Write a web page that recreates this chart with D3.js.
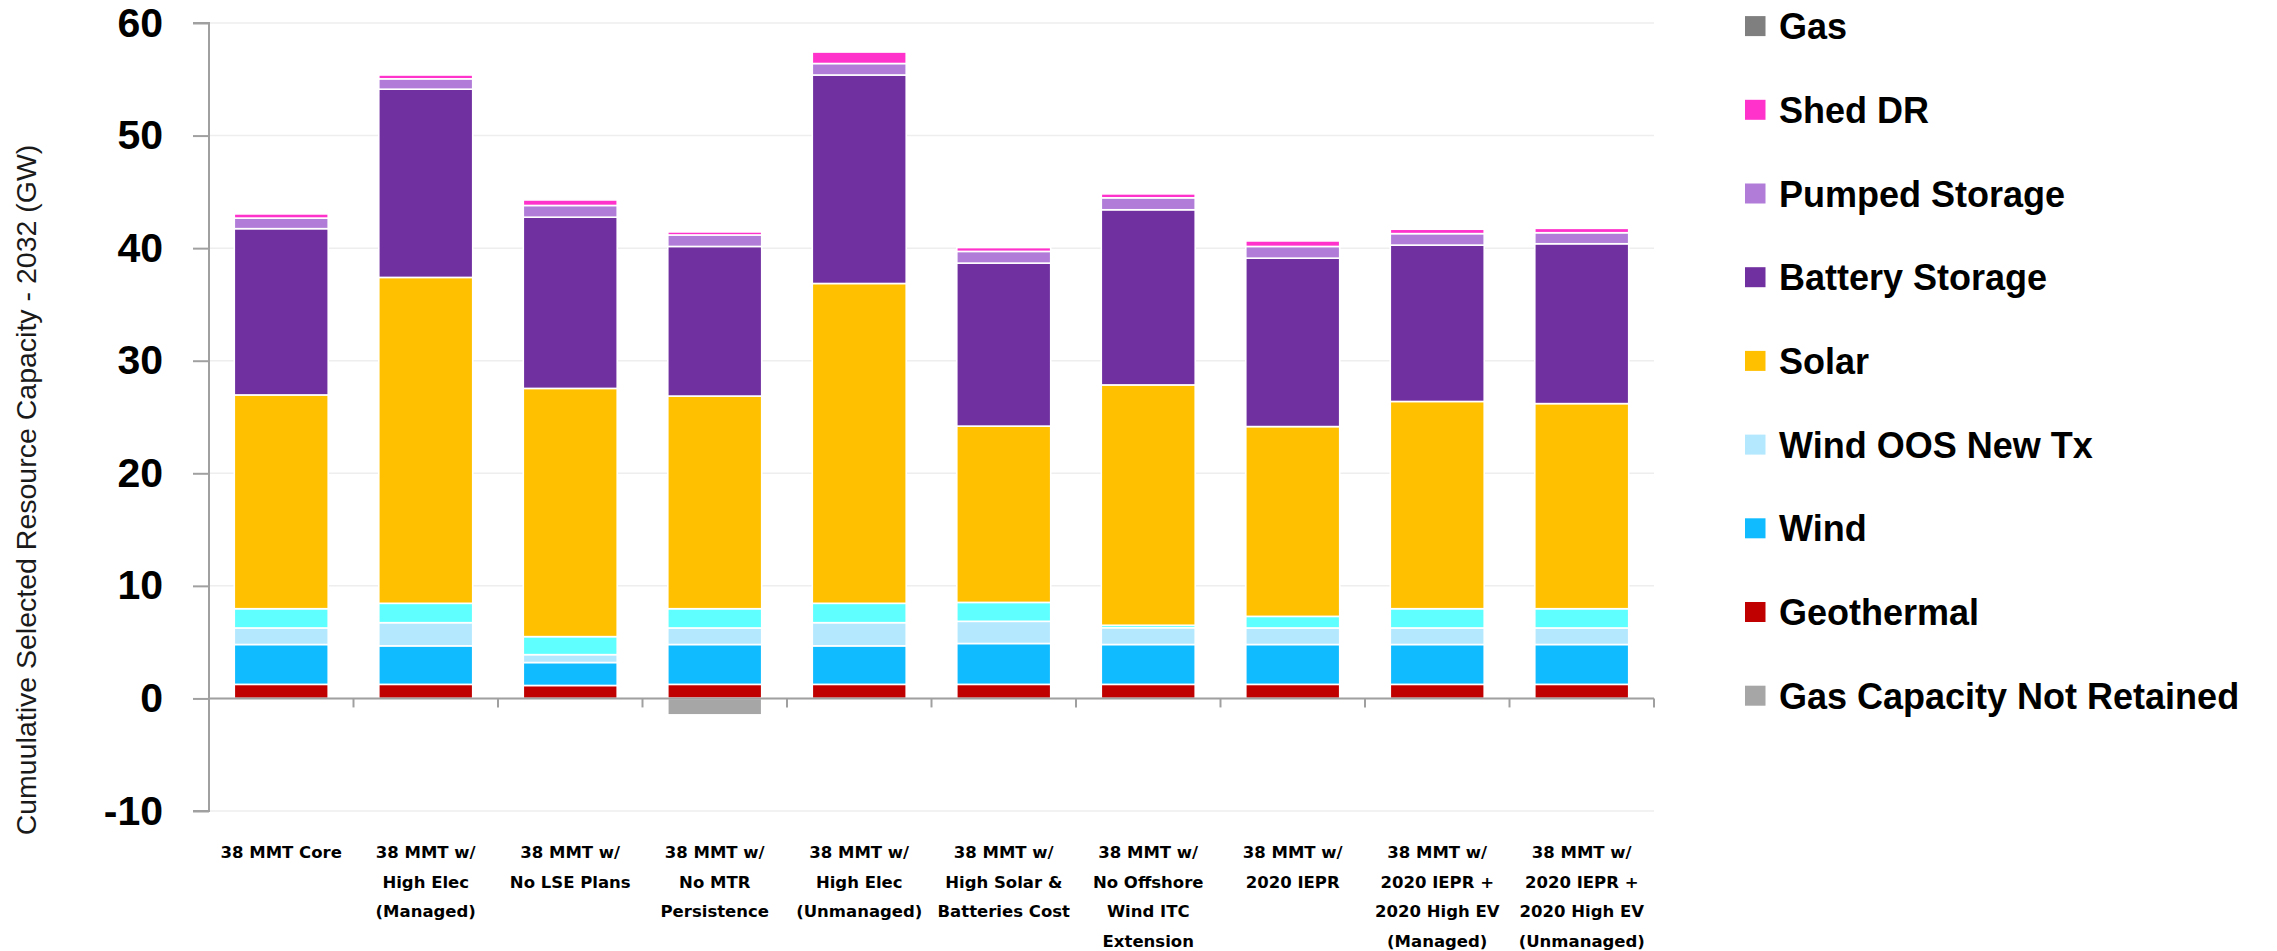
<!DOCTYPE html>
<html>
<head>
<meta charset="utf-8">
<script src="https://cdn.jsdelivr.net/npm/d3@7/dist/d3.min.js"></script>
<style>
  body { margin: 0; background: #fff; }
  svg { display: block; }
</style>
</head>
<body>
<div id="chart"></div>
<script>
// Scenarios on the x axis
let scenarios = [
    "38 MMT Core",
    "38 MMT w/ High Elec (Managed)",
    "38 MMT w/ No LSE Plans",
    "38 MMT w/ No MTR Persistence",
    "38 MMT w/ High Elec (Unmanaged)",
    "38 MMT w/ High Solar & Batteries Cost",
    "38 MMT w/ No Offshore Wind ITC Extension",
    "38 MMT w/ 2020 IEPR",
    "38 MMT w/ 2020 IEPR + 2020 High EV (Managed)",
    "38 MMT w/ 2020 IEPR + 2020 High EV (Unmanaged)"
];

// Same names, split the way the labels wrap
let scenarioLines = [
    ["38 MMT Core"],
    ["38 MMT w/", "High Elec", "(Managed)"],
    ["38 MMT w/", "No LSE Plans"],
    ["38 MMT w/", "No MTR", "Persistence"],
    ["38 MMT w/", "High Elec", "(Unmanaged)"],
    ["38 MMT w/", "High Solar &", "Batteries Cost"],
    ["38 MMT w/", "No Offshore", "Wind ITC", "Extension"],
    ["38 MMT w/", "2020 IEPR"],
    ["38 MMT w/", "2020 IEPR +", "2020 High EV", "(Managed)"],
    ["38 MMT w/", "2020 IEPR +", "2020 High EV", "(Unmanaged)"]
];

// Selected capacity by resource (GW)
let geothermal     = [1.25, 1.25, 1.15, 1.25, 1.25, 1.25, 1.25, 1.25, 1.25, 1.25];
let wind           = [3.54, 3.42, 2.04, 3.54, 3.42, 3.63, 3.54, 3.54, 3.54, 3.54];
let windOosNewTx   = [1.47, 2.06, 0.70, 1.47, 2.06, 1.97, 1.49, 1.47, 1.47, 1.47];
let offshoreWind   = [1.71, 1.72, 1.60, 1.71, 1.72, 1.68, 0.22, 1.03, 1.71, 1.71];
let solar          = [18.99, 28.95, 22.05, 18.89, 28.41, 15.66, 21.35, 16.86, 18.41, 18.22];
let battery        = [14.77, 16.72, 15.21, 13.29, 18.52, 14.48, 15.56, 14.96, 13.89, 14.20];
let pumpedStorage  = [0.94, 0.92, 1.04, 1.02, 1.02, 1.04, 1.06, 1.04, 1.02, 0.98];
let shedDR         = [0.37, 0.34, 0.49, 0.27, 1.02, 0.34, 0.35, 0.49, 0.39, 0.39];
let gas            = [0, 0, 0, 0, 0, 0, 0, 0, 0, 0];
let gasNotRetained = [0, 0, 0, -1.46, 0, 0, 0, 0, 0, 0];

// y axis ticks
let yTicks = [-10, 0, 10, 20, 30, 40, 50, 60];

// Legend entries, top to bottom (offshore wind is not listed in the original)
let legendKeys = ["Gas", "Shed DR", "Pumped Storage", "Battery Storage", "Solar",
    "Wind OOS New Tx", "Wind", "Geothermal", "Gas Capacity Not Retained"];

// Stack order, bottom to top
let series = [
    { key: "Geothermal", values: geothermal },
    { key: "Wind", values: wind },
    { key: "Wind OOS New Tx", values: windOosNewTx },
    { key: "Offshore Wind", values: offshoreWind },
    { key: "Solar", values: solar },
    { key: "Battery Storage", values: battery },
    { key: "Pumped Storage", values: pumpedStorage },
    { key: "Shed DR", values: shedDR },
    { key: "Gas", values: gas },
    { key: "Gas Capacity Not Retained", values: gasNotRetained }
];

let colors = {
    "Geothermal": "#c00000",
    "Wind": "#10bcff",
    "Wind OOS New Tx": "#b3e8ff",
    "Offshore Wind": "#5fffff",
    "Solar": "#ffc000",
    "Battery Storage": "#7030a0",
    "Pumped Storage": "#b07cd8",
    "Shed DR": "#ff33cc",
    "Gas": "#7f7f7f",
    "Gas Capacity Not Retained": "#a6a6a6"
};

// SVG area
let svgWidth = 2277;
let svgHeight = 951;

let plot = { left: 209, right: 1654, top: 23, bottom: 811 };

let svg = d3.select("#chart")
    .append("svg")
    .attr("width", svgWidth)
    .attr("height", svgHeight);

svg.append("rect")
    .attr("width", svgWidth)
    .attr("height", svgHeight)
    .attr("fill", "#fff");

// Build rows for d3.stack
let keys = series.map(s => s.key);
let rows = scenarios.map(function(name, i) {
    let row = { scenario: name, index: i };
    series.forEach(s => { row[s.key] = s.values[i]; });
    return row;
});

let stacked = d3.stack()
    .keys(keys)
    .offset(d3.stackOffsetDiverging)(rows);

// Scales
let xScale = d3.scaleBand()
    .domain(scenarios)
    .range([plot.left, plot.right])
    .paddingInner(0.35)
    .paddingOuter(0.175);

let yScale = d3.scaleLinear()
    .domain([-10, 60])
    .range([plot.bottom, plot.top]);

// Gridlines
svg.append("g")
    .selectAll("line")
    .data(yTicks)
    .enter()
    .append("line")
    .attr("x1", plot.left)
    .attr("x2", plot.right)
    .attr("y1", d => yScale(d))
    .attr("y2", d => yScale(d))
    .attr("stroke", "#eeeeee")
    .attr("stroke-width", 1.5);

// Bars
let layers = svg.append("g")
    .selectAll("g")
    .data(stacked)
    .enter()
    .append("g")
    .attr("fill", d => colors[d.key]);

layers.selectAll("rect")
    .data(d => d.filter(p => p[1] - p[0] !== 0))
    .enter()
    .append("rect")
    .attr("x", d => xScale(d.data.scenario))
    .attr("width", xScale.bandwidth())
    .attr("y", d => yScale(Math.max(d[0], d[1])))
    .attr("height", d => Math.abs(yScale(d[0]) - yScale(d[1])))
    .attr("stroke", "#fff")
    .attr("stroke-width", 1.6);

// Left axis
let yAxis = d3.axisLeft(yScale)
    .tickValues(yTicks)
    .tickSize(16)
    .tickPadding(30)
    .tickFormat(d => String(d));

let yAxisG = svg.append("g")
    .attr("transform", `translate(${plot.left}, 0)`)
    .call(yAxis);

yAxisG.select(".domain")
    .attr("d", `M-16,${yScale(60)}H0V${yScale(-10)}H-16`)
    .attr("stroke", "#a0a0a0")
    .attr("stroke-width", 2);

yAxisG.selectAll(".tick line")
    .attr("stroke", "#a0a0a0")
    .attr("stroke-width", 2);

yAxisG.selectAll(".tick text")
    .attr("font-family", "'Liberation Sans', Arial, sans-serif")
    .attr("font-weight", "bold")
    .attr("font-size", 41)
    .attr("fill", "#000");

// Zero line with category separator ticks
svg.append("line")
    .attr("x1", plot.left)
    .attr("x2", plot.right)
    .attr("y1", yScale(0))
    .attr("y2", yScale(0))
    .attr("stroke", "#a0a0a0")
    .attr("stroke-width", 2);

let step = xScale.step();
svg.append("g")
    .selectAll("line")
    .data(scenarios)
    .enter()
    .append("line")
    .attr("x1", (d, i) => plot.left + step * (i + 1))
    .attr("x2", (d, i) => plot.left + step * (i + 1))
    .attr("y1", yScale(0))
    .attr("y2", yScale(0) + 9)
    .attr("stroke", "#a0a0a0")
    .attr("stroke-width", 2);

// Category labels
let labels = svg.append("g")
    .selectAll("text")
    .data(scenarioLines)
    .enter()
    .append("text")
    .attr("text-anchor", "middle")
    .attr("font-family", "'DejaVu Sans', Verdana, sans-serif")
    .attr("font-weight", "bold")
    .attr("font-size", 16.5)
    .attr("fill", "#000");

labels.selectAll("tspan")
    .data((d, i) => d.map(line => ({ line: line, name: scenarios[i] })))
    .enter()
    .append("tspan")
    .attr("x", d => xScale(d.name) + xScale.bandwidth() / 2)
    .attr("y", (d, j) => 858 + j * 29.5)
    .text(d => d.line);

// Y axis title
svg.append("text")
    .attr("transform", "translate(36, 490) rotate(-90)")
    .attr("text-anchor", "middle")
    .attr("font-family", "'Liberation Sans', Arial, sans-serif")
    .attr("font-size", 28.5)
    .attr("fill", "#1a1a1a")
    .text("Cumuulative Selected Resource Capacity - 2032 (GW)");

// Legend
let legend = svg.append("g")
    .selectAll("g")
    .data(legendKeys)
    .enter()
    .append("g")
    .attr("transform", (d, i) => `translate(1745, ${26.1 + i * 83.7})`);

legend.append("rect")
    .attr("x", 0)
    .attr("y", -10)
    .attr("width", 20.5)
    .attr("height", 20)
    .attr("fill", d => colors[d]);

legend.append("text")
    .attr("x", 34)
    .attr("y", 13)
    .attr("font-family", "'Liberation Sans', Arial, sans-serif")
    .attr("font-weight", "bold")
    .attr("font-size", 36)
    .attr("fill", "#000")
    .text(d => d);
</script>
</body>
</html>
